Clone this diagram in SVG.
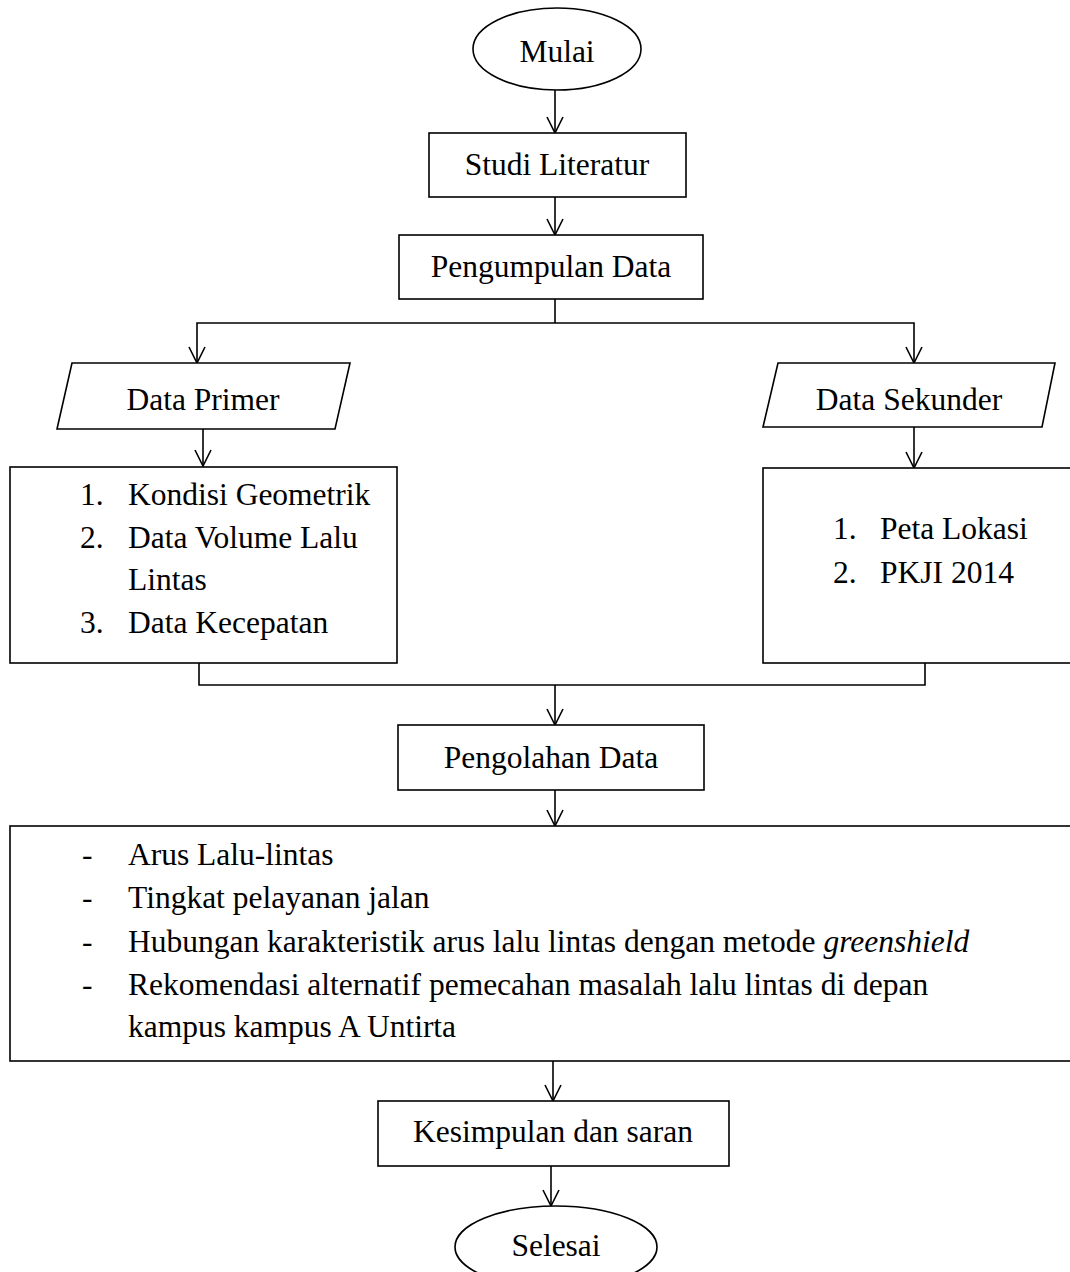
<svg xmlns="http://www.w3.org/2000/svg" width="1070" height="1272" viewBox="0 0 1070 1272">
<style>
  .s { fill: #fff; stroke: #000; stroke-width: 1.6; }
  .c { fill: none; stroke: #000; stroke-width: 1.6; }
  text { font-family: "Liberation Serif", "Times New Roman", serif; font-size: 31.5px; fill: #000; }
  .m { text-anchor: middle; }
</style>
<defs>
  <marker id="arr" viewBox="0 0 18 18" refX="17" refY="9" markerWidth="18" markerHeight="18" markerUnits="userSpaceOnUse" orient="auto">
    <path d="M1,1 L17,9 L1,17" fill="none" stroke="#000" stroke-width="1.6"/>
  </marker>
</defs>
<rect width="1070" height="1272" fill="#fff"/>

<g id="connectors">
  <path class="c" d="M555,90 V133" marker-end="url(#arr)"/>
  <path class="c" d="M555,197 V235" marker-end="url(#arr)"/>
  <path class="c" d="M555,299 V323"/>
  <path class="c" d="M555,323 H197 V363" marker-end="url(#arr)"/>
  <path class="c" d="M555,323 H914 V363" marker-end="url(#arr)"/>
  <path class="c" d="M203,429 V466" marker-end="url(#arr)"/>
  <path class="c" d="M914,427 V468" marker-end="url(#arr)"/>
  <path class="c" d="M199,663 V685 H925 V663"/>
  <path class="c" d="M555,685 V725" marker-end="url(#arr)"/>
  <path class="c" d="M555,790 V826" marker-end="url(#arr)"/>
  <path class="c" d="M553,1061 V1101" marker-end="url(#arr)"/>
  <path class="c" d="M551,1166 V1206" marker-end="url(#arr)"/>
</g>

<g id="mulai">
  <ellipse class="s" cx="557" cy="49" rx="84" ry="41"/>
  <text class="m" x="557" y="62">Mulai</text>
</g>
<g id="studi-literatur">
  <rect class="s" x="429" y="133" width="257" height="64"/>
  <text class="m" x="557" y="175">Studi Literatur</text>
</g>
<g id="pengumpulan-data">
  <rect class="s" x="399" y="235" width="304" height="64"/>
  <text class="m" x="551" y="277">Pengumpulan Data</text>
</g>
<g id="data-primer">
  <polygon class="s" points="72,363 350,363 335,429 57,429"/>
  <text class="m" x="203" y="410">Data Primer</text>
</g>
<g id="data-sekunder">
  <polygon class="s" points="778,363 1055,363 1042,427 763,427"/>
  <text class="m" x="909" y="410">Data Sekunder</text>
</g>
<g id="primer-list">
  <rect class="s" x="10" y="467" width="387" height="196"/>
  <text x="80" y="505">1.</text><text x="128" y="505">Kondisi Geometrik</text>
  <text x="80" y="548">2.</text><text x="128" y="548">Data Volume Lalu</text>
  <text x="128" y="590">Lintas</text>
  <text x="80" y="633">3.</text><text x="128" y="633">Data Kecepatan</text>
</g>
<g id="sekunder-list">
  <rect class="s" x="763" y="468" width="320" height="195"/>
  <text x="833" y="539">1.</text><text x="880" y="539">Peta Lokasi</text>
  <text x="833" y="583">2.</text><text x="880" y="583">PKJI 2014</text>
</g>
<g id="pengolahan-data">
  <rect class="s" x="398" y="725" width="306" height="65"/>
  <text class="m" x="551" y="768">Pengolahan Data</text>
</g>
<g id="hasil">
  <rect class="s" x="10" y="826" width="1075" height="235"/>
  <text x="82" y="865">-</text><text x="128" y="865">Arus Lalu-lintas</text>
  <text x="82" y="908">-</text><text x="128" y="908">Tingkat pelayanan jalan</text>
  <text x="82" y="952">-</text><text x="128" y="952">Hubungan karakteristik arus lalu lintas dengan metode <tspan font-style="italic">greenshield</tspan></text>
  <text x="82" y="995">-</text><text x="128" y="995">Rekomendasi alternatif pemecahan masalah lalu lintas di depan</text>
  <text x="128" y="1037">kampus kampus A Untirta</text>
</g>
<g id="kesimpulan">
  <rect class="s" x="378" y="1101" width="351" height="65"/>
  <text class="m" x="553" y="1142">Kesimpulan dan saran</text>
</g>
<g id="selesai">
  <ellipse class="s" cx="556" cy="1247" rx="101" ry="41"/>
  <text class="m" x="556" y="1256">Selesai</text>
</g>
</svg>
